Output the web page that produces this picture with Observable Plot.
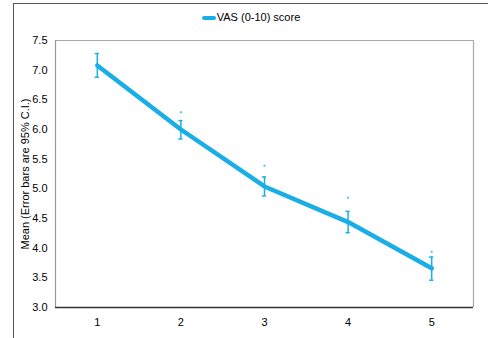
<!DOCTYPE html>
<html>
<head>
<meta charset="utf-8">
<script src="https://cdn.jsdelivr.net/npm/d3@7"></script>
<script src="https://cdn.jsdelivr.net/npm/@observablehq/plot@0.6"></script>
<style>
  html, body { margin: 0; padding: 0; background: #fff; }
  #wrap { position: relative; width: 488px; height: 338px; overflow: hidden; font-family: "Liberation Sans", Arial, sans-serif; }
  #border { position: absolute; left: 13px; top: 3px; width: 480px; height: 340px; border-left: 1.5px solid #555; border-top: 1.5px solid #555; box-sizing: border-box; }
  #legend { position: absolute; top: 11px; left: 0; width: 100%; text-align: center; font-size: 11px; color: #000; padding-left: 14px; box-sizing: border-box; }
  #legend .sw { display: inline-block; width: 14px; height: 4px; background: #1aaee6; vertical-align: middle; margin-right: 1px; border-radius: 2px; }
  #chart { position: absolute; left: 0; top: 0; }
</style>
</head>
<body>
<div id="wrap">
  <div id="border"></div>
  <div id="chart"></div>
  <div id="legend"><span class="sw"></span>VAS (0-10) score</div>
</div>
<script>
const categories = [1, 2, 3, 4, 5];
const means = [7.08, 6.0, 5.04, 4.44, 3.66];
const ciLow = [6.88, 5.84, 4.88, 4.26, 3.46];
const ciHigh = [7.28, 6.15, 5.20, 4.62, 3.85];
const extremes = [null, 6.29, 5.39, 4.85, 3.94];
const yTicks = [3.0, 3.5, 4.0, 4.5, 5.0, 5.5, 6.0, 6.5, 7.0, 7.5];

const data = categories.map((c, i) => ({x: c, mean: means[i], lo: ciLow[i], hi: ciHigh[i], ext: extremes[i]}));
const blue = "#1aaee6";

const plot = Plot.plot({
  width: 488,
  height: 338,
  marginLeft: 55,
  marginRight: 15,
  marginTop: 40,
  marginBottom: 31,
  style: {fontFamily: "'Liberation Sans', Arial, sans-serif", fontSize: "11px", background: "transparent", color: "#000"},
  x: {domain: [0.5, 5.5], ticks: categories, tickFormat: d => String(d), tickSize: 0, tickPadding: 11, label: null},
  y: {domain: [3, 7.5], ticks: yTicks, tickFormat: d => d.toFixed(1), tickSize: 0, tickPadding: 8,
      label: "Mean (Error bars are 95% C.I.)", labelAnchor: "center", labelArrow: "none", labelOffset: 34},
  marks: [
    Plot.ruleY([7.5], {stroke: "#aaa", strokeWidth: 1.2}),
    Plot.ruleX([5.5], {stroke: "#aaa", strokeWidth: 1.2}),
    Plot.ruleX([0.5], {stroke: "#999", strokeWidth: 1.2}),
    Plot.ruleY([3], {stroke: "#333", strokeWidth: 1.5}),
    Plot.ruleX(data, {x: "x", y1: "lo", y2: "hi", stroke: blue, strokeWidth: 1.5}),
    Plot.ruleY(data, {y: "lo", x1: d => d.x - 0.025, x2: d => d.x + 0.025, stroke: blue, strokeWidth: 1.5}),
    Plot.ruleY(data, {y: "hi", x1: d => d.x - 0.025, x2: d => d.x + 0.025, stroke: blue, strokeWidth: 1.5}),
    Plot.line(data, {x: "x", y: "mean", stroke: blue, strokeWidth: 4.5}),
    Plot.dot(data.filter(d => d.ext != null), {x: "x", y: "ext", r: 1.2, fill: "#6fcaf0", stroke: "none"})
  ]
});
document.getElementById("chart").appendChild(plot);
</script>
</body>
</html>
